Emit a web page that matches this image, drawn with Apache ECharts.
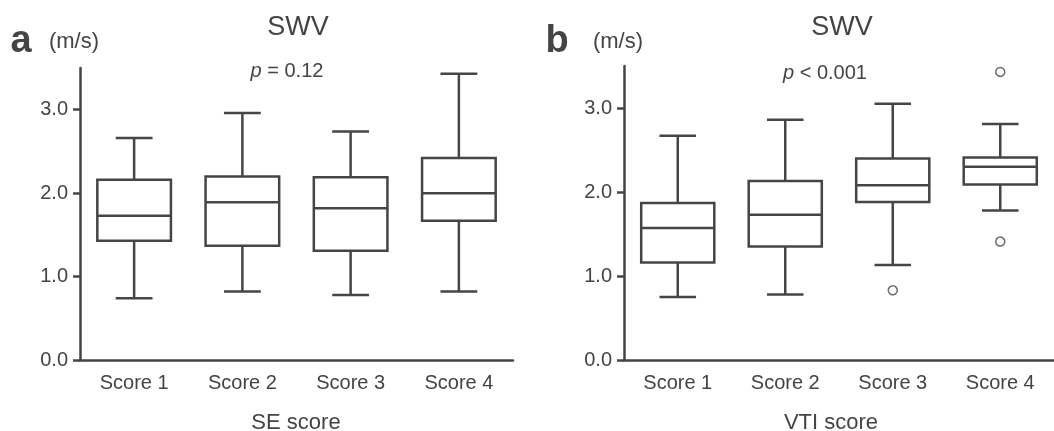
<!DOCTYPE html>
<html>
<head>
    <meta charset="utf-8">
    <style>
        html, body { width: 100%; height: 100%; margin: 0; background: #fff; }
        #chart-panel { width: 1054px; height: 431px; }
    </style>
    <script src="https://cdn.jsdelivr.net/npm/echarts@6/dist/echarts.min.js"></script>
</head>
<body>
<div id="chart-panel"></div>
<script type="text/javascript">
  // categories and tick labels
  var categories = ['Score 1', 'Score 2', 'Score 3', 'Score 4'];
  var yTicks = [0, 1, 2, 3];

  // box stats per score: [min, Q1, median, Q3, max]
  var seBoxes = [
    [0.74, 1.43, 1.73, 2.16, 2.66],
    [0.82, 1.37, 1.89, 2.20, 2.96],
    [0.78, 1.31, 1.82, 2.19, 2.74],
    [0.82, 1.67, 2.00, 2.42, 3.43]
  ];
  var vtiBoxes = [
    [0.75, 1.16, 1.57, 1.87, 2.67],
    [0.78, 1.35, 1.73, 2.13, 2.86],
    [1.13, 1.88, 2.08, 2.40, 3.05],
    [1.78, 2.09, 2.30, 2.41, 2.81]
  ];
  // outliers: [category index, value]
  var vtiOutliers = [[2, 0.83], [3, 3.43], [3, 1.41]];

  var ink = '#454545';
  var font = '"Liberation Sans", Arial, Helvetica, sans-serif';

  function toRows(boxes) {
    return boxes.map(function (b, i) { return [i].concat(b); });
  }

  function renderBox(params, api) {
    var x = api.value(0);
    var pMin = api.coord([x, api.value(1)]);
    var pQ1 = api.coord([x, api.value(2)]);
    var pMed = api.coord([x, api.value(3)]);
    var pQ3 = api.coord([x, api.value(4)]);
    var pMax = api.coord([x, api.value(5)]);
    var band = api.size([1, 0])[0];
    var hw = band * 0.34;   // half box width
    var cw = hw / 2;        // half cap width
    var cx = pMed[0];
    var st = { stroke: ink, lineWidth: 2.5, fill: null };
    return {
      type: 'group',
      children: [
        { type: 'line', shape: { x1: cx, y1: pMax[1], x2: cx, y2: pQ3[1] }, style: st },
        { type: 'line', shape: { x1: cx, y1: pQ1[1], x2: cx, y2: pMin[1] }, style: st },
        { type: 'line', shape: { x1: cx - cw, y1: pMax[1], x2: cx + cw, y2: pMax[1] }, style: st },
        { type: 'line', shape: { x1: cx - cw, y1: pMin[1], x2: cx + cw, y2: pMin[1] }, style: st },
        { type: 'rect', shape: { x: cx - hw, y: pQ3[1], width: hw * 2, height: pQ1[1] - pQ3[1] },
          style: { stroke: ink, lineWidth: 2.5, fill: '#fff' } },
        { type: 'line', shape: { x1: cx - hw, y1: pMed[1], x2: cx + hw, y2: pMed[1] }, style: st }
      ]
    };
  }

  function xAxisFor(gridIndex) {
    return {
      type: 'category',
      gridIndex: gridIndex,
      data: categories,
      boundaryGap: true,
      axisLine: { lineStyle: { color: ink, width: 2.5 } },
      axisTick: { alignWithLabel: true, length: 8, lineStyle: { color: ink, width: 2.5 } },
      axisLabel: { color: '#444', fontSize: 20, fontFamily: font, margin: 13 },
      splitLine: { show: false }
    };
  }

  function yAxisFor(gridIndex) {
    return {
      type: 'value',
      gridIndex: gridIndex,
      min: 0,
      max: 3.5,
      interval: 1,
      axisLine: { show: true, lineStyle: { color: ink, width: 2.5 } },
      axisTick: { show: true, length: 7, customValues: yTicks, lineStyle: { color: ink, width: 2.5 } },
      axisLabel: {
        color: '#444', fontSize: 20, fontFamily: font, margin: 12,
        customValues: yTicks,
        formatter: function (v) { return v.toFixed(1); }
      },
      splitLine: { show: false }
    };
  }

  function label(text, x, y, fontSpec) {
    return {
      type: 'text',
      z: 10,
      style: {
        text: text, x: x, y: y, fill: '#444',
        font: fontSpec,
        textAlign: 'center', textVerticalAlign: 'middle'
      }
    };
  }

  function pLabel(text, x, y) {
    return {
      type: 'text',
      z: 10,
      style: {
        text: text, x: x, y: y, fill: '#444',
        font: '20px ' + font,
        textAlign: 'center', textVerticalAlign: 'middle',
        rich: { i: { fontStyle: 'italic', fontSize: 20, fontFamily: font, fill: '#444' } }
      }
    };
  }

  var myChart = echarts.init(document.getElementById('chart-panel'));

  var option = {
    backgroundColor: '#fff',
    animation: false,
    grid: [
      { left: 80, top: 68, width: 433, height: 292 },
      { left: 624, top: 66, width: 436, height: 294 }
    ],
    xAxis: [xAxisFor(0), xAxisFor(1)],
    yAxis: [yAxisFor(0), yAxisFor(1)],
    graphic: [
      label('a', 21, 42, 'bold 38px ' + font),
      label('(m/s)', 74, 42, '22px ' + font),
      label('SWV', 298, 28, '27px ' + font),
      pLabel('{i|p} = 0.12', 287, 71),
      label('SE score', 296, 423, '22px ' + font),

      label('b', 557, 42, 'bold 38px ' + font),
      label('(m/s)', 618, 42, '22px ' + font),
      label('SWV', 842, 28, '27px ' + font),
      pLabel('{i|p} < 0.001', 825, 73),
      label('VTI score', 831, 423, '22px ' + font)
    ],
    series: [
      {
        name: 'SE score',
        type: 'custom',
        xAxisIndex: 0,
        yAxisIndex: 0,
        renderItem: renderBox,
        encode: { x: 0, y: [1, 2, 3, 4, 5] },
        data: toRows(seBoxes)
      },
      {
        name: 'VTI score',
        type: 'custom',
        xAxisIndex: 1,
        yAxisIndex: 1,
        renderItem: renderBox,
        encode: { x: 0, y: [1, 2, 3, 4, 5] },
        data: toRows(vtiBoxes)
      },
      {
        name: 'VTI outliers',
        type: 'scatter',
        xAxisIndex: 1,
        yAxisIndex: 1,
        symbol: 'circle',
        symbolSize: 9,
        itemStyle: { color: '#fff', borderColor: ink, borderWidth: 1.5 },
        data: vtiOutliers
      }
    ]
  };

  myChart.setOption(option);
</script>
</body>
</html>
